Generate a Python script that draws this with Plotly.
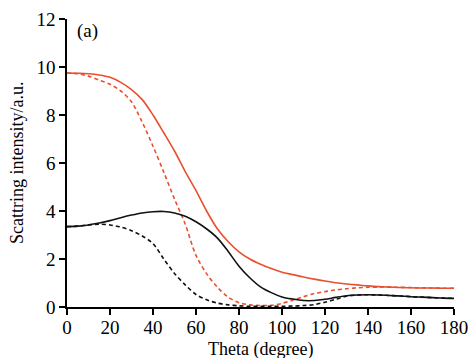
import plotly.graph_objects as go

theta = list(range(0, 181, 5))

red_solid = [9.75, 9.74, 9.72, 9.67, 9.57, 9.36, 9.06, 8.64, 8.0, 7.26, 6.5, 5.64, 4.85,
             3.99, 3.25, 2.72, 2.3, 2.0, 1.78, 1.6, 1.45, 1.35, 1.25, 1.16, 1.08, 1.01,
             0.96, 0.92, 0.88, 0.85, 0.83, 0.81, 0.8, 0.79, 0.79, 0.78, 0.78]
red_dash = [9.75, 9.72, 9.62, 9.45, 9.28, 9.0, 8.55, 7.7, 6.7, 5.62, 4.5, 3.45, 2.15,
            1.38, 0.82, 0.41, 0.18, 0.09, 0.06, 0.07, 0.15, 0.28, 0.43, 0.56, 0.64, 0.71,
            0.76, 0.8, 0.82, 0.83, 0.83, 0.82, 0.81, 0.8, 0.79, 0.78, 0.78]
black_solid = [3.35, 3.37, 3.42, 3.5, 3.6, 3.72, 3.83, 3.92, 3.97, 3.98, 3.92, 3.78, 3.55,
               3.25, 2.87, 2.31, 1.7, 1.22, 0.84, 0.6, 0.42, 0.33, 0.27, 0.27, 0.32, 0.4,
               0.47, 0.5, 0.51, 0.5, 0.48, 0.46, 0.43, 0.41, 0.39, 0.37, 0.36]
black_dash = [3.35, 3.37, 3.42, 3.45, 3.42, 3.33, 3.18, 2.96, 2.64, 2.0, 1.4, 0.92, 0.52,
              0.3, 0.16, 0.09, 0.05, 0.03, 0.03, 0.03, 0.03, 0.04, 0.06, 0.1, 0.2, 0.32,
              0.45, 0.5, 0.51, 0.5, 0.48, 0.46, 0.43, 0.41, 0.39, 0.37, 0.36]

x_ticks = list(range(0, 181, 20))
y_ticks = list(range(0, 13, 2))

RED = "#e8502f"
BLACK = "#111111"
FONT = "Liberation Serif, Times New Roman, serif"
FS = 19

fig = go.Figure()
fig.add_trace(go.Scatter(x=theta, y=red_solid, mode="lines",
                         line=dict(color=RED, width=1.6, shape="spline", smoothing=0.9)))
fig.add_trace(go.Scatter(x=theta, y=red_dash, mode="lines",
                         line=dict(color=RED, width=1.6, dash="4px,3px", shape="spline", smoothing=0.9)))
fig.add_trace(go.Scatter(x=theta, y=black_solid, mode="lines",
                         line=dict(color=BLACK, width=1.6, shape="spline", smoothing=0.9)))
fig.add_trace(go.Scatter(x=theta, y=black_dash, mode="lines",
                         line=dict(color=BLACK, width=1.6, dash="4px,3px", shape="spline", smoothing=0.9)))

fig.add_annotation(x=9.7, y=11.5, text="(a)", showarrow=False,
                   font=dict(family=FONT, size=FS, color="black"))
fig.add_annotation(x=0.5, y=0, xref="paper", yref="paper", xanchor="center", yanchor="top",
                   yshift=-30, text="Theta (degree)", showarrow=False,
                   font=dict(family=FONT, size=18, color="black"))
fig.add_annotation(x=0, y=0.5, xref="paper", yref="paper", xanchor="center", yanchor="middle",
                   xshift=-50, textangle=-90, text="Scattring intensity/a.u.", showarrow=False,
                   font=dict(family=FONT, size=18, color="black"))

axis_common = dict(showgrid=False, zeroline=False, automargin=False,
                   showline=True, linecolor="black", linewidth=1.5,
                   ticks="outside", ticklen=6, tickwidth=1.5, tickcolor="black",
                   tickfont=dict(family=FONT, size=FS, color="black"))

fig.update_layout(
    width=472, height=358,
    margin=dict(l=67, r=18, t=19, b=51),
    paper_bgcolor="white", plot_bgcolor="white",
    showlegend=False,
    font=dict(family=FONT, size=FS, color="black"),
    xaxis=dict(range=[0, 180], tickvals=x_ticks, ticklabelstandoff=-4, **axis_common),
    yaxis=dict(range=[0, 12], tickvals=y_ticks, **axis_common),
)

fig.write_html("out.html", config={"displayModeBar": False},
               post_script="document.body.style.margin='0';document.body.style.overflow='hidden';")
